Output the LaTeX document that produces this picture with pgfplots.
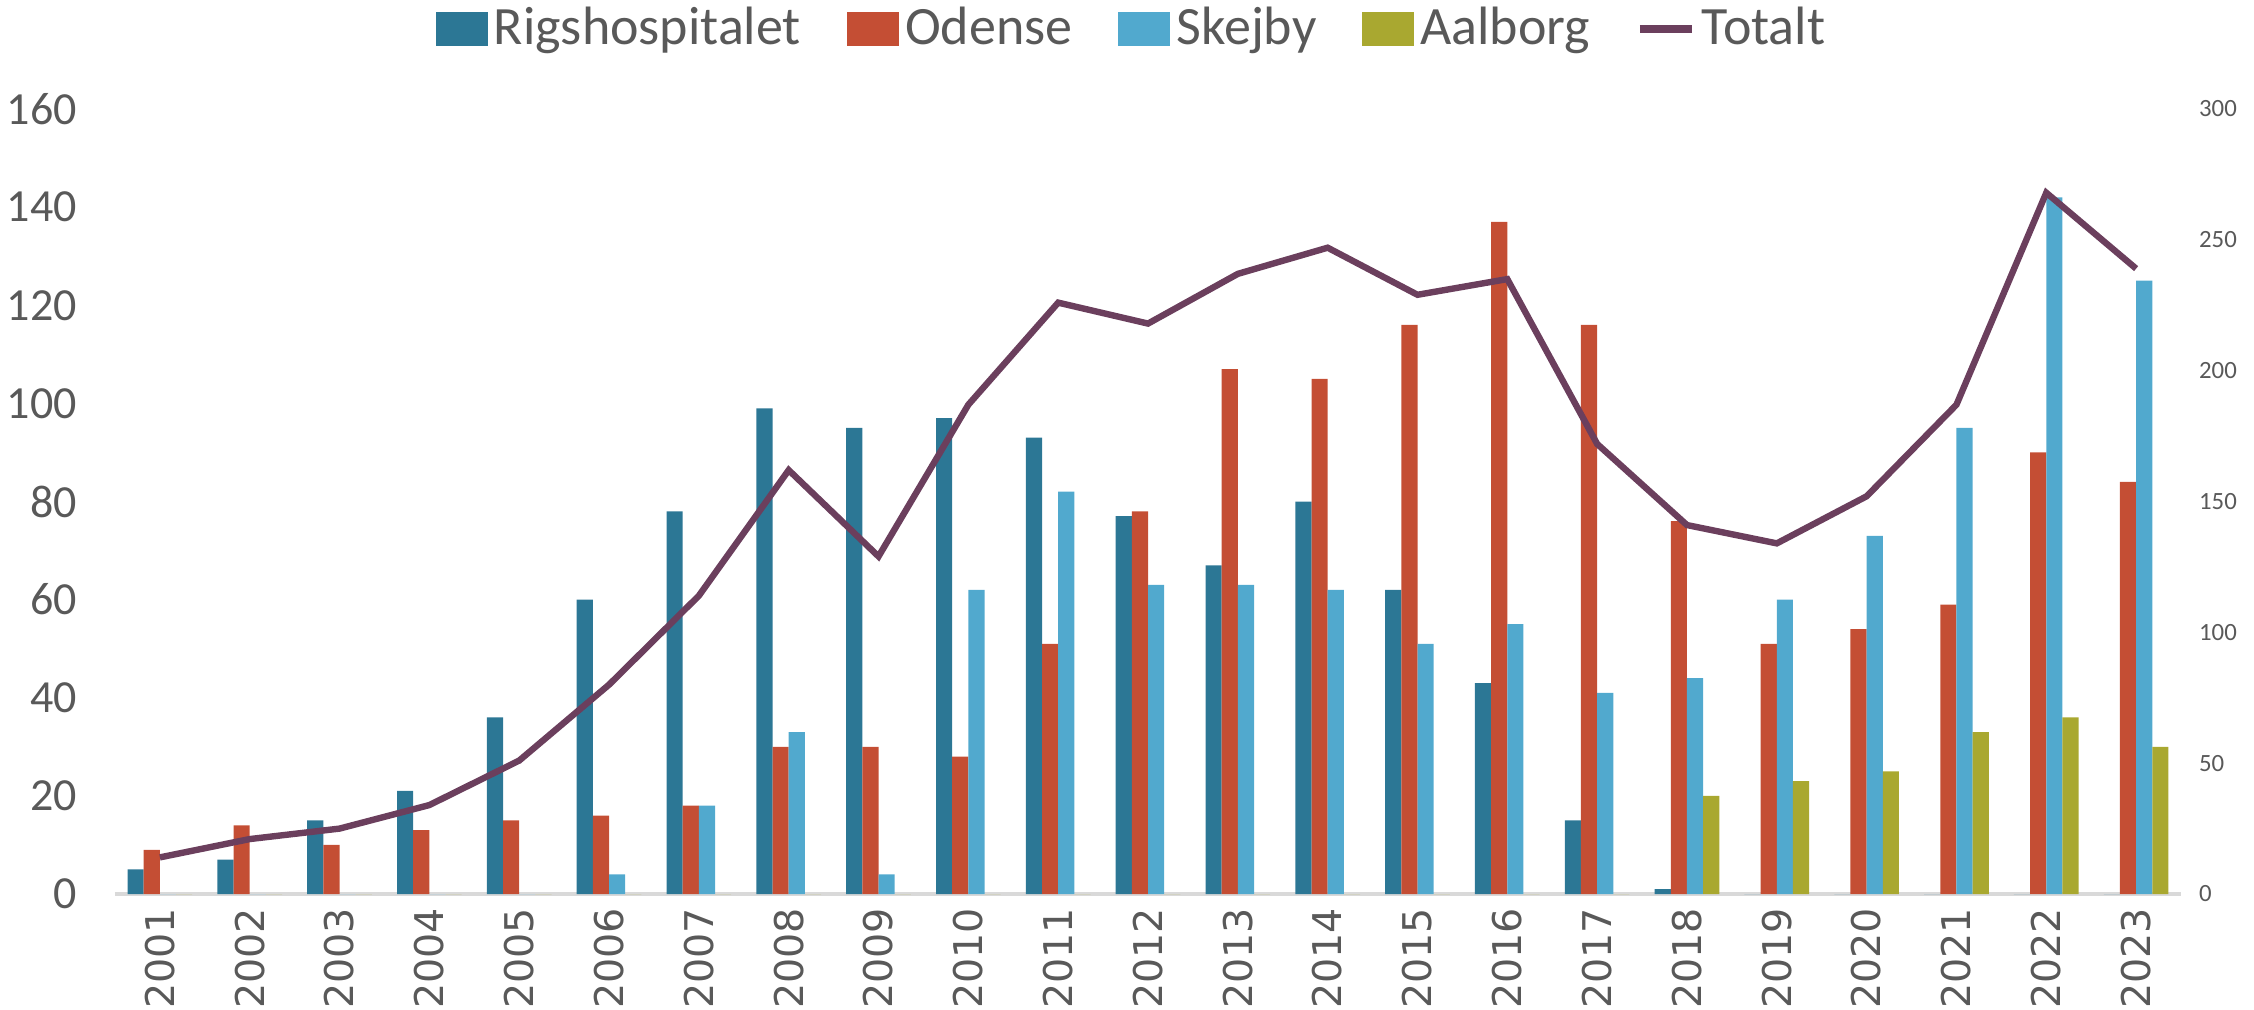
\documentclass[border=0pt]{standalone}
\usepackage{fontspec}
\setmainfont{Carlito}
\newfontfamily\yearfont{DejaVu Sans}
\usepackage{pgfplots}
\usepackage{pgfplotstable}
\pgfplotsset{compat=1.18}
\definecolor{rigs}{HTML}{2C7795}
\definecolor{odense}{HTML}{C44E34}
\definecolor{skejby}{HTML}{51A9CE}
\definecolor{aalborg}{HTML}{A9A830}
\definecolor{total}{HTML}{6B3F5D}
\definecolor{txt}{HTML}{595959}
\definecolor{axisgray}{HTML}{D9D9D9}

\pgfplotstableread{
year rigs odense skejby aalborg total
2001 5 9 0 0 14
2002 7 14 0 0 21
2003 15 10 0 0 25
2004 21 13 0 0 34
2005 36 15 0 0 51
2006 60 16 4 0 80
2007 78 18 18 0 114
2008 99 30 33 0 162
2009 95 30 4 0 129
2010 97 28 62 0 187
2011 93 51 82 0 226
2012 77 78 63 0 218
2013 67 107 63 0 237
2014 80 105 62 0 247
2015 62 116 51 0 229
2016 43 137 55 0 235
2017 15 116 41 0 172
2018 1 76 44 20 141
2019 0 51 60 23 134
2020 0 54 73 25 152
2021 0 59 95 33 187
2022 0 90 142 36 268
2023 0 84 125 30 239
}\data

\begin{document}
\begin{tikzpicture}
\useasboundingbox (-28.75pt,-28.75pt) rectangle (534.75pt,223.5pt);
\begin{axis}[
  scale only axis, width=516.5pt, height=196.25pt,
  xmin=2000.5, xmax=2023.5, ymin=0, ymax=160,
  ybar=0pt, bar width=0.18,
  axis x line*=bottom, axis y line*=left,
  x axis line style={-, axisgray, line width=0.9pt},
  y axis line style={draw=none},
  major tick length=0pt,
  xtick={2001,2002,...,2023},
  ytick={0,20,...,160},
  /pgf/number format/assume math mode=true,
  /pgf/number format/1000 sep={},
  xticklabel style={rotate=90, anchor=east, font=\yearfont\fontsize{9.9}{10}\selectfont, text=txt, xshift=0pt},
  yticklabel style={font=\fontsize{11.5}{12}\selectfont, text=txt, xshift=-6pt},
  legend style={at={(0.493,1)}, anchor=center, yshift=20pt, draw=none, fill=none,
    font=\fontsize{13.5}{14}\selectfont, text=txt, legend columns=-1,
    /tikz/every even column/.append style={column sep=10pt},
    nodes={inner sep=1.5pt}},
  legend image code/.code={\fill[#1] (0pt,-4.25pt) rectangle (13pt,4.25pt);},
]
\addplot[fill=rigs, draw=none] table[x=year,y=rigs]{\data};
\addlegendentry{Rigshospitalet}
\addplot[fill=odense, draw=none] table[x=year,y=odense]{\data};
\addlegendentry{Odense}
\addplot[fill=skejby, draw=none] table[x=year,y=skejby]{\data};
\addlegendentry{Skejby}
\addplot[fill=aalborg, draw=none] table[x=year,y=aalborg]{\data};
\addlegendentry{Aalborg}
\addlegendimage{legend image code/.code={\draw[total, line width=1.8pt] (0pt,0pt) -- (13pt,0pt);}}
\addlegendentry{Totalt}
\end{axis}
\begin{axis}[
  scale only axis, width=516.5pt, height=196.25pt,
  xmin=2000.5, xmax=2023.5, ymin=0, ymax=300,
  axis y line*=right, hide x axis,
  y axis line style={draw=none},
  major tick length=0pt,
  ytick={0,50,...,300},
  /pgf/number format/assume math mode=true,
  yticklabel style={font=\fontsize{6.2}{7}\selectfont, text=txt, anchor=west, xshift=1pt},
]
\addplot[total, line width=1.6pt, mark=none] table[x=year,y=total]{\data};
\end{axis}
\end{tikzpicture}
\end{document}
